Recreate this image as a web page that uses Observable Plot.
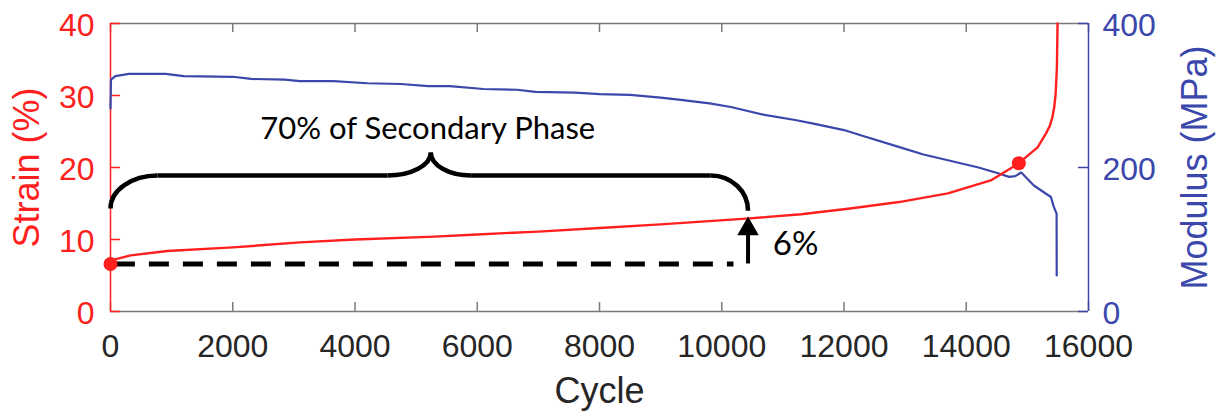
<!DOCTYPE html>
<html>
<head>
<meta charset="utf-8">
<script src="https://cdn.jsdelivr.net/npm/d3@7"></script>
<script src="https://cdn.jsdelivr.net/npm/@observablehq/plot@0.6"></script>
<style>
  html, body { margin: 0; padding: 0; background: #fff; }
</style>
</head>
<body>
<div id="chart"></div>
<script>
// ---- Data ----
const xTicks = [0, 2000, 4000, 6000, 8000, 10000, 12000, 14000, 16000];
const strainTicks = [0, 10, 20, 30, 40];
const modulusTicks = [0, 200, 400];

// Strain (%) vs cycle
const strainCycle = [0, 10, 330, 930, 2000, 3100, 4000, 5300, 6000, 7000, 8000, 9000, 10400, 11300, 12100, 12900, 13700, 14400, 14730, 14860, 15167, 15303, 15368, 15410, 15440, 15462, 15483, 15494];
const strainPct   = [6.6, 7.1, 7.8, 8.4, 8.9, 9.6, 10.0, 10.4, 10.7, 11.1, 11.6, 12.1, 12.9, 13.5, 14.3, 15.2, 16.4, 18.2, 19.9, 20.6, 22.8, 24.7, 25.8, 27.0, 28.4, 30.2, 33.9, 40];

// Modulus (MPa) vs cycle
const modCycle = [0, 8, 80, 300, 900, 1200, 2000, 2300, 2850, 3100, 3650, 4200, 4750, 5200, 5550, 6100, 6650, 6950, 7600, 8000, 8500, 9000, 9330, 9800, 10150, 10700, 11200, 11500, 12000, 12300, 12880, 13300, 13700, 14200, 14520, 14700, 14800, 14900, 15106, 15385, 15434, 15478, 15480];
const modMPa   = [282, 322, 327, 330, 330, 327, 326, 323, 322, 320, 320, 317, 316, 313, 313, 309, 308, 305, 304, 302, 301, 297, 294, 289, 284, 273, 266, 261, 252, 244, 229, 218, 210, 200, 192, 187, 188, 193, 175, 159, 145, 136, 50];

// Highlighted points on the strain curve
const markerCycle  = [0, 14860];
const markerStrain = [6.6, 20.6];

// Annotation: brace "70% of Secondary Phase" (cycle, strain, segment id)
const braceCycle  = [0, 0, 770,   770, 4530,   4530, 5240, 5240,   5240, 5240, 5900,   5900, 9820,   9820, 10430, 10430];
const braceStrain = [14.3, 18.9, 18.9,   18.9, 18.9,   18.9, 18.9, 22.1,   22.1, 18.9, 18.9,   18.9, 18.9,   18.9, 18.9, 14.0];
const braceSeg    = [1, 1, 1,   2, 2,   3, 3, 3,   4, 4, 4,   5, 5,   6, 6, 6];

// Annotation: dashed baseline and the 6% arrow
const baseStrain = 6.6;
const baseStart = 80, baseEnd = 10200;
const arrowCycle = 10430, arrowTop = 11.47;
const braceLabel = "70% of Secondary Phase", braceLabelCycle = 5190, braceLabelStrain = 25.4;
const arrowLabel = "6%", arrowLabelCycle = 10835, arrowLabelStrain = 9.3;

// inward tick lengths, in axis units (≈9–10 px)
const tickLenStrain = 1.25;   // vertical ticks on the cycle axis
const tickLenCycle = 165;     // horizontal ticks on the strain / modulus axes

// ---- Styling ----
const RED = "#ff1f1f", BLUE = "#3b47ab", GRAY = "#7a7a7a", INK = "#262626";
const SANS = "'Liberation Sans', Arial, Helvetica, sans-serif";
const CAL = "Lato, 'Open Sans', sans-serif";

// Rounded-corner curve: for 3 points (start, corner, end) draw a quarter-ellipse-like Bezier
function cornerCurve(context) {
  let pts = [];
  return {
    areaStart() {}, areaEnd() {},
    lineStart() { pts = []; },
    point(x, y) { pts.push([+x, +y]); },
    lineEnd() {
      if (!pts.length) return;
      context.moveTo(pts[0][0], pts[0][1]);
      if (pts.length === 3) {
        const [a, c, b] = pts, k = 0.5523;
        context.bezierCurveTo(
          a[0] + k * (c[0] - a[0]), a[1] + k * (c[1] - a[1]),
          b[0] + k * (c[0] - b[0]), b[1] + k * (c[1] - b[1]),
          b[0], b[1]);
      } else {
        for (const p of pts.slice(1)) context.lineTo(p[0], p[1]);
      }
    }
  };
}

const strain = strainCycle.map((c, i) => ({cycle: c, v: strainPct[i]}));
const modulus = modCycle.map((c, i) => ({cycle: c, v: modMPa[i] / 10})); // mapped onto 0–40 scale
const markers = markerCycle.map((c, i) => ({cycle: c, v: markerStrain[i]}));
const brace = braceCycle.map((c, i) => ({cycle: c, v: braceStrain[i], seg: braceSeg[i]}));
const modTickPos = modulusTicks.map(d => d / 10);

const bottomTicks = xTicks.map(t => ({x: t, y1: 0, y2: tickLenStrain}));
const topTicks = xTicks.map(t => ({x: t, y1: 40 - tickLenStrain, y2: 40}));
const leftTicks = strainTicks.map(t => ({y: t, x1: 0, x2: tickLenCycle}));
const rightTicks = modTickPos.map(t => ({y: t, x1: 16000 - tickLenCycle, x2: 16000}));

const chart = Plot.plot({
  width: 1228,
  height: 418,
  marginLeft: 110,
  marginRight: 140,
  marginTop: 23,
  marginBottom: 107,
  style: {fontFamily: SANS, background: "white", overflow: "visible"},
  x: {domain: [0, 16000]},
  y: {domain: [0, 40]},
  marks: [
    // box top/bottom
    Plot.ruleY([0, 40], {stroke: GRAY, strokeWidth: 1.5}),
    // x axis labels
    Plot.axisX({anchor: "bottom", ticks: xTicks, tickSize: 0, tickPadding: 23, fontSize: 32, fill: INK, label: null, tickFormat: d => String(d)}),
    // inward ticks
    Plot.ruleX(bottomTicks, {x: "x", y1: "y1", y2: "y2", stroke: GRAY, strokeWidth: 1.5}),
    Plot.ruleX(topTicks, {x: "x", y1: "y1", y2: "y2", stroke: GRAY, strokeWidth: 1.5}),
    Plot.ruleY(leftTicks, {y: "y", x1: "x1", x2: "x2", stroke: RED, strokeWidth: 1.5}),
    Plot.ruleY(rightTicks, {y: "y", x1: "x1", x2: "x2", stroke: BLUE, strokeWidth: 1.5}),
    // left axis (strain)
    Plot.ruleX([0], {stroke: RED, strokeWidth: 1.5}),
    Plot.axisY({anchor: "left", ticks: strainTicks, tickSize: 0, tickPadding: 16, fontSize: 32, fill: RED, dy: 2, label: null}),
    // right axis (modulus)
    Plot.ruleX([16000], {stroke: BLUE, strokeWidth: 1.5}),
    Plot.axisY({anchor: "right", ticks: modTickPos, tickFormat: d => String(Math.round(d * 10)), tickSize: 0, tickPadding: 14, fontSize: 32, fill: BLUE, dy: 2, label: null}),
    // axis titles
    Plot.text(["Strain (%)"], {frameAnchor: "left", textAnchor: "middle", lineAnchor: "middle", dx: -83, rotate: -90, fill: RED, fontSize: 36, fontFamily: SANS}),
    Plot.text(["Modulus (MPa)"], {frameAnchor: "right", textAnchor: "middle", lineAnchor: "middle", dx: 107, rotate: -90, fill: BLUE, fontSize: 36, fontFamily: SANS}),
    Plot.text(["Cycle"], {frameAnchor: "bottom", textAnchor: "middle", lineAnchor: "middle", dy: 80, fill: INK, fontSize: 36, fontFamily: SANS}),
    // data
    Plot.line(modulus, {x: "cycle", y: "v", stroke: BLUE, strokeWidth: 2.2}),
    Plot.line(strain, {x: "cycle", y: "v", stroke: RED, strokeWidth: 2.4}),
    // annotations
    Plot.ruleY([{y: baseStrain, x1: baseStart, x2: baseEnd}], {y: "y", x1: "x1", x2: "x2", stroke: "black", strokeWidth: 5, strokeDasharray: "20,14"}),
    Plot.ruleX([{x: arrowCycle, y1: baseStrain, y2: arrowTop}], {x: "x", y1: "y1", y2: "y2", stroke: "black", strokeWidth: 4}),
    Plot.dot([{x: arrowCycle, y: arrowTop}], {x: "x", y: "y", symbol: "triangle", r: 8, fill: "black", stroke: "none"}),
    Plot.line(brace, {x: "cycle", y: "v", z: "seg", curve: cornerCurve, stroke: "black", strokeWidth: 4.5, strokeLinecap: "butt"}),
    Plot.text([{x: braceLabelCycle, y: braceLabelStrain, t: braceLabel}], {x: "x", y: "y", text: "t", fontSize: 31, fontFamily: CAL, fill: "black"}),
    Plot.text([{x: arrowLabelCycle, y: arrowLabelStrain, t: arrowLabel}], {x: "x", y: "y", text: "t", textAnchor: "start", fontSize: 33, fontFamily: CAL, fill: "black"}),
    Plot.dot(markers, {x: "cycle", y: "v", r: 7, fill: RED, stroke: "none"})
  ]
});
document.getElementById("chart").appendChild(chart);
</script>
</body>
</html>
